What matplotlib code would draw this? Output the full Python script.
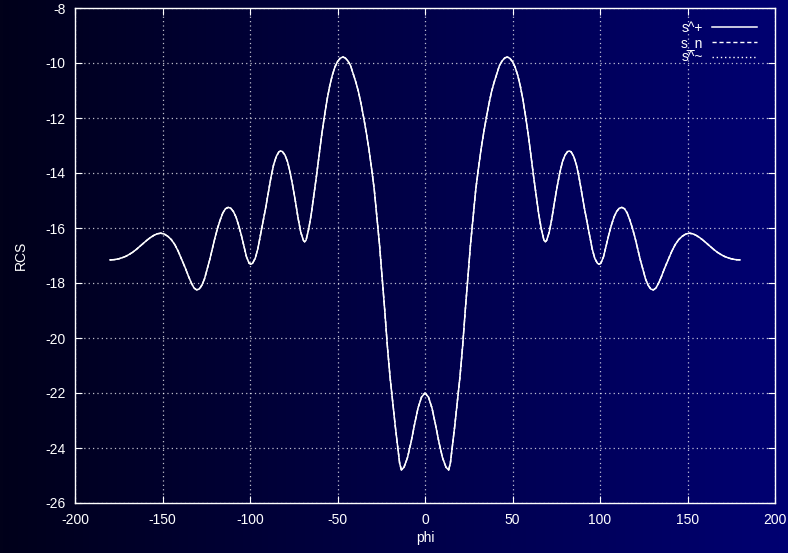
import numpy as np
import matplotlib.pyplot as plt
from matplotlib.colors import LinearSegmentedColormap

# RCS pattern, left half then right half
phi_left = [-180, -177.5, -175, -173, -171, -169, -167, -165, -163, -161, -159,
            -157, -155, -153, -151, -149, -147, -145, -143, -141, -139, -137,
            -135, -133.5, -132, -130.5, -129, -127.5, -126, -124.5, -123,
            -121.5, -120, -118.5, -117, -115.5, -114, -112.5, -111, -109.5,
            -108, -106.5, -105, -103.5, -102, -100.5, -99.5, -98.5, -97, -95.5,
            -94, -92.5, -91, -89.5, -88, -86.5, -85, -83.5, -82.5, -81.5, -80,
            -78.5, -77, -75.5, -74, -72.5, -71, -69.5, -68.8, -68, -66.5, -65,
            -63.5, -62, -60.5, -59, -57.5, -56, -54.5, -53, -51.5, -50, -48.5,
            -47, -45.5, -44, -42.5, -41, -39.5, -38, -36.5, -35, -33.5, -32,
            -30.5, -29, -27.5, -26, -24.5, -23, -21.5, -20, -18.5, -17, -15.5,
            -14.5, -13.5, -12, -10, -8, -6, -4, -2]
rcs_left = [-17.16, -17.15, -17.12, -17.08, -17.03, -16.96, -16.88, -16.78,
            -16.67, -16.56, -16.45, -16.35, -16.27, -16.21, -16.19, -16.22,
            -16.30, -16.42, -16.60, -16.85, -17.15, -17.45, -17.78, -18.00,
            -18.18, -18.25, -18.22, -18.08, -17.85, -17.50, -17.15, -16.75,
            -16.35, -16.00, -15.70, -15.45, -15.30, -15.25, -15.28, -15.40,
            -15.60, -15.90, -16.25, -16.65, -17.05, -17.28, -17.32, -17.28,
            -17.10, -16.75, -16.25, -15.75, -15.25, -14.70, -14.15, -13.70,
            -13.40, -13.23, -13.20, -13.22, -13.35, -13.60, -14.00, -14.50,
            -15.05, -15.65, -16.15, -16.45, -16.50, -16.45, -16.05, -15.50,
            -14.80, -14.10, -13.35, -12.60, -11.95, -11.35, -10.85, -10.45,
            -10.15, -9.95, -9.83, -9.78, -9.82, -9.93, -10.10, -10.40, -10.70,
            -11.05, -11.50, -12.00, -12.55, -13.15, -13.85, -14.60, -15.60,
            -16.60, -17.80, -19.00, -20.30, -21.40, -22.30, -23.20, -24.00,
            -24.55, -24.80, -24.70, -24.35, -23.80, -23.15, -22.55, -22.15]
phi_right = [0, 2, 4, 6, 8, 10, 12, 13.5, 14.5, 15.5, 17, 18.5, 20, 21.5, 23,
             24.5, 26, 27.5, 29, 30.5, 32, 33.5, 35, 36.5, 38, 39.5, 41, 42.5,
             44, 45.5, 47, 48.5, 50, 51.5, 53, 54.5, 56, 57.5, 59, 60.5, 62,
             63.5, 65, 66.5, 68, 68.8, 69.5, 71, 72.5, 74, 75.5, 77, 78.5, 80,
             81.5, 82.5, 83.5, 85, 86.5, 88, 89.5, 91, 92.5, 94, 95.5, 97, 98.5,
             99.5, 100.5, 102, 103.5, 105, 106.5, 108, 109.5, 111, 112.5, 114,
             115.5, 117, 118.5, 120, 121.5, 123, 124.5, 126, 127.5, 129, 130.5,
             132, 133.5, 135, 137, 139, 141, 143, 145, 147, 149, 151, 153, 155,
             157, 159, 161, 163, 165, 167, 169, 171, 173, 175, 177.5, 180]
rcs_right = [-22.00, -22.15, -22.55, -23.15, -23.80, -24.35, -24.70, -24.80,
             -24.55, -24.00, -23.20, -22.30, -21.40, -20.30, -19.00, -17.80,
             -16.60, -15.60, -14.60, -13.85, -13.15, -12.55, -12.00, -11.50,
             -11.05, -10.70, -10.40, -10.10, -9.93, -9.82, -9.78, -9.83, -9.95,
             -10.15, -10.45, -10.85, -11.35, -11.95, -12.60, -13.35, -14.10,
             -14.80, -15.50, -16.05, -16.45, -16.50, -16.45, -16.15, -15.65,
             -15.05, -14.50, -14.00, -13.60, -13.35, -13.22, -13.20, -13.23,
             -13.40, -13.70, -14.15, -14.70, -15.25, -15.75, -16.25, -16.75,
             -17.10, -17.28, -17.32, -17.28, -17.05, -16.65, -16.25, -15.90,
             -15.60, -15.40, -15.28, -15.25, -15.30, -15.45, -15.70, -16.00,
             -16.35, -16.75, -17.15, -17.50, -17.85, -18.08, -18.22, -18.25,
             -18.18, -18.00, -17.78, -17.45, -17.15, -16.85, -16.60, -16.42,
             -16.30, -16.22, -16.19, -16.21, -16.27, -16.35, -16.45, -16.56,
             -16.67, -16.78, -16.88, -16.96, -17.03, -17.08, -17.12, -17.15,
             -17.16]

phi = phi_left + phi_right
s_plus = rcs_left + rcs_right
# the other two series lie exactly under s^+ in the picture
s_n = s_plus
s_tilde = s_plus

xticks = [-200, -150, -100, -50, 0, 50, 100, 150, 200]
yticks = [-26, -24, -22, -20, -18, -16, -14, -12, -10, -8]

plt.rcParams['font.family'] = ['Liberation Sans', 'DejaVu Sans']
plt.rcParams['axes.unicode_minus'] = False

fig = plt.figure(figsize=(7.88, 5.53), dpi=100)

# horizontal background gradient, black to navy
bg = fig.add_axes([0, 0, 1, 1], zorder=-10)
cmap = LinearSegmentedColormap.from_list('bg', ['#01011a', '#000072'])
bg.imshow(np.linspace(0, 1, 256).reshape(1, -1), aspect='auto', cmap=cmap,
          extent=[0, 1, 0, 1])
bg.axis('off')

ax = fig.add_axes([75/788, 50/553, 700/788, 495/553])
ax.set_facecolor('none')

ax.plot(phi, s_tilde, color='white', lw=1, linestyle=(0, (1, 2)), label='s^~', zorder=2)
ax.plot(phi, s_n, color='white', lw=1, linestyle=(0, (3, 2)), label='s_n', zorder=2)
ax.plot(phi, s_plus, color='white', lw=1.1, label='s^+', zorder=3)

ax.set_xlim(-200, 200)
ax.set_ylim(-26, -8)
ax.set_xticks(xticks)
ax.set_yticks(yticks)
ax.grid(True, color='white', alpha=0.75, lw=0.9, linestyle=(0, (1, 2.5)))

for s in ax.spines.values():
    s.set_color('white')
    s.set_linewidth(1)
ax.tick_params(direction='in', colors='white', labelsize=10, length=5,
               top=True, right=True, pad=7)
for lab in ax.get_xticklabels() + ax.get_yticklabels():
    lab.set_color('white')

ax.set_xlabel('phi', color='white', fontsize=10, labelpad=3)
ax.set_ylabel('RCS', color='white', fontsize=10, labelpad=12)

h, l = ax.get_legend_handles_labels()
leg = ax.legend(h[::-1], l[::-1], loc='upper right', frameon=False,
                markerfirst=False, fontsize=10, handlelength=3.25,
                handletextpad=0.65, labelspacing=0.05,
                borderaxespad=0.0, bbox_to_anchor=(0.982, 0.985))
for t in leg.get_texts():
    t.set_color('white')

fig.savefig('out.png', dpi=100)
